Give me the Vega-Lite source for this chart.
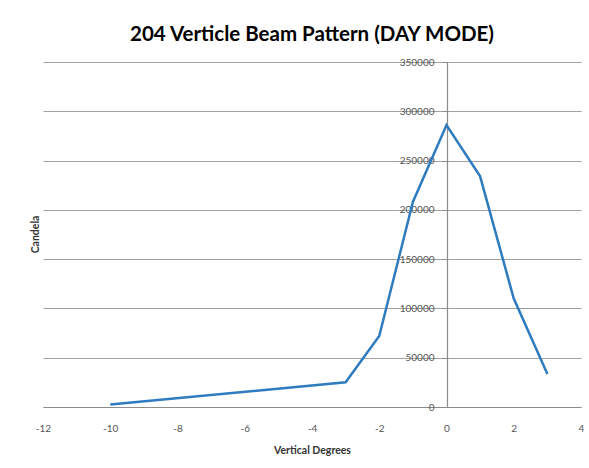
{
  "$schema": "https://vega.github.io/schema/vega-lite/v6.json",
  "width": 538,
  "height": 345,
  "autosize": "none",
  "padding": {"left": 43, "top": 62, "right": 8, "bottom": 61},
  "background": "white",
  "title": {"text": "204 Verticle Beam Pattern (DAY MODE)", "fontSize": 20.5, "font": "Lato", "fontWeight": "bold", "color": "#000000", "anchor": "middle", "offset": 12},
  "data": {"values": [
    {"deg": -10, "cd": 2500},
    {"deg": -3, "cd": 25000},
    {"deg": -2, "cd": 72000},
    {"deg": -1, "cd": 208000},
    {"deg": 0, "cd": 286000},
    {"deg": 1, "cd": 234000},
    {"deg": 2, "cd": 110000},
    {"deg": 3, "cd": 33500}
  ]},
  "mark": {"type": "line", "color": "#2E7BBF", "strokeWidth": 2.5},
  "encoding": {
    "x": {"field": "deg", "type": "quantitative", "scale": {"domain": [-12, 4], "nice": false, "zero": false},
      "axis": {"values": [-12, -10, -8, -6, -4, -2, 0, 2, 4], "labelExpr": "'' + datum.value", "title": "Vertical Degrees", "grid": false, "ticks": false,
        "domainColor": "#8C8C8C", "domainWidth": 1.2, "labelFont": "Lato", "labelFontSize": 10, "labelColor": "#555555", "labelPadding": 16, "labelFlush": false,
        "titleFont": "Lato", "titleFontSize": 10.5, "titleFontWeight": "bold", "titleColor": "#333333", "titlePadding": 12}},
    "y": {"field": "cd", "type": "quantitative", "scale": {"domain": [0, 350000], "nice": false},
      "axis": {"values": [0, 50000, 100000, 150000, 200000, 250000, 300000, 350000], "format": "d", "offset": -404,
        "grid": true, "gridColor": "#A0A0A0", "gridWidth": 1, "domainColor": "#8C8C8C", "domainWidth": 1.2,
        "tickColor": "#8C8C8C", "tickSize": 5, "labelFont": "Lato", "labelFontSize": 10, "labelColor": "#555555", "labelPadding": 8,
        "title": "Candela", "titleFont": "Lato", "titleFontSize": 10.5, "titleFontWeight": "bold", "titleColor": "#333333",
        "titleX": -407, "titleY": 172, "titleAngle": -90, "titleAlign": "center", "titleBaseline": "bottom"}}
  },
  "config": {"view": {"stroke": null}}
}
